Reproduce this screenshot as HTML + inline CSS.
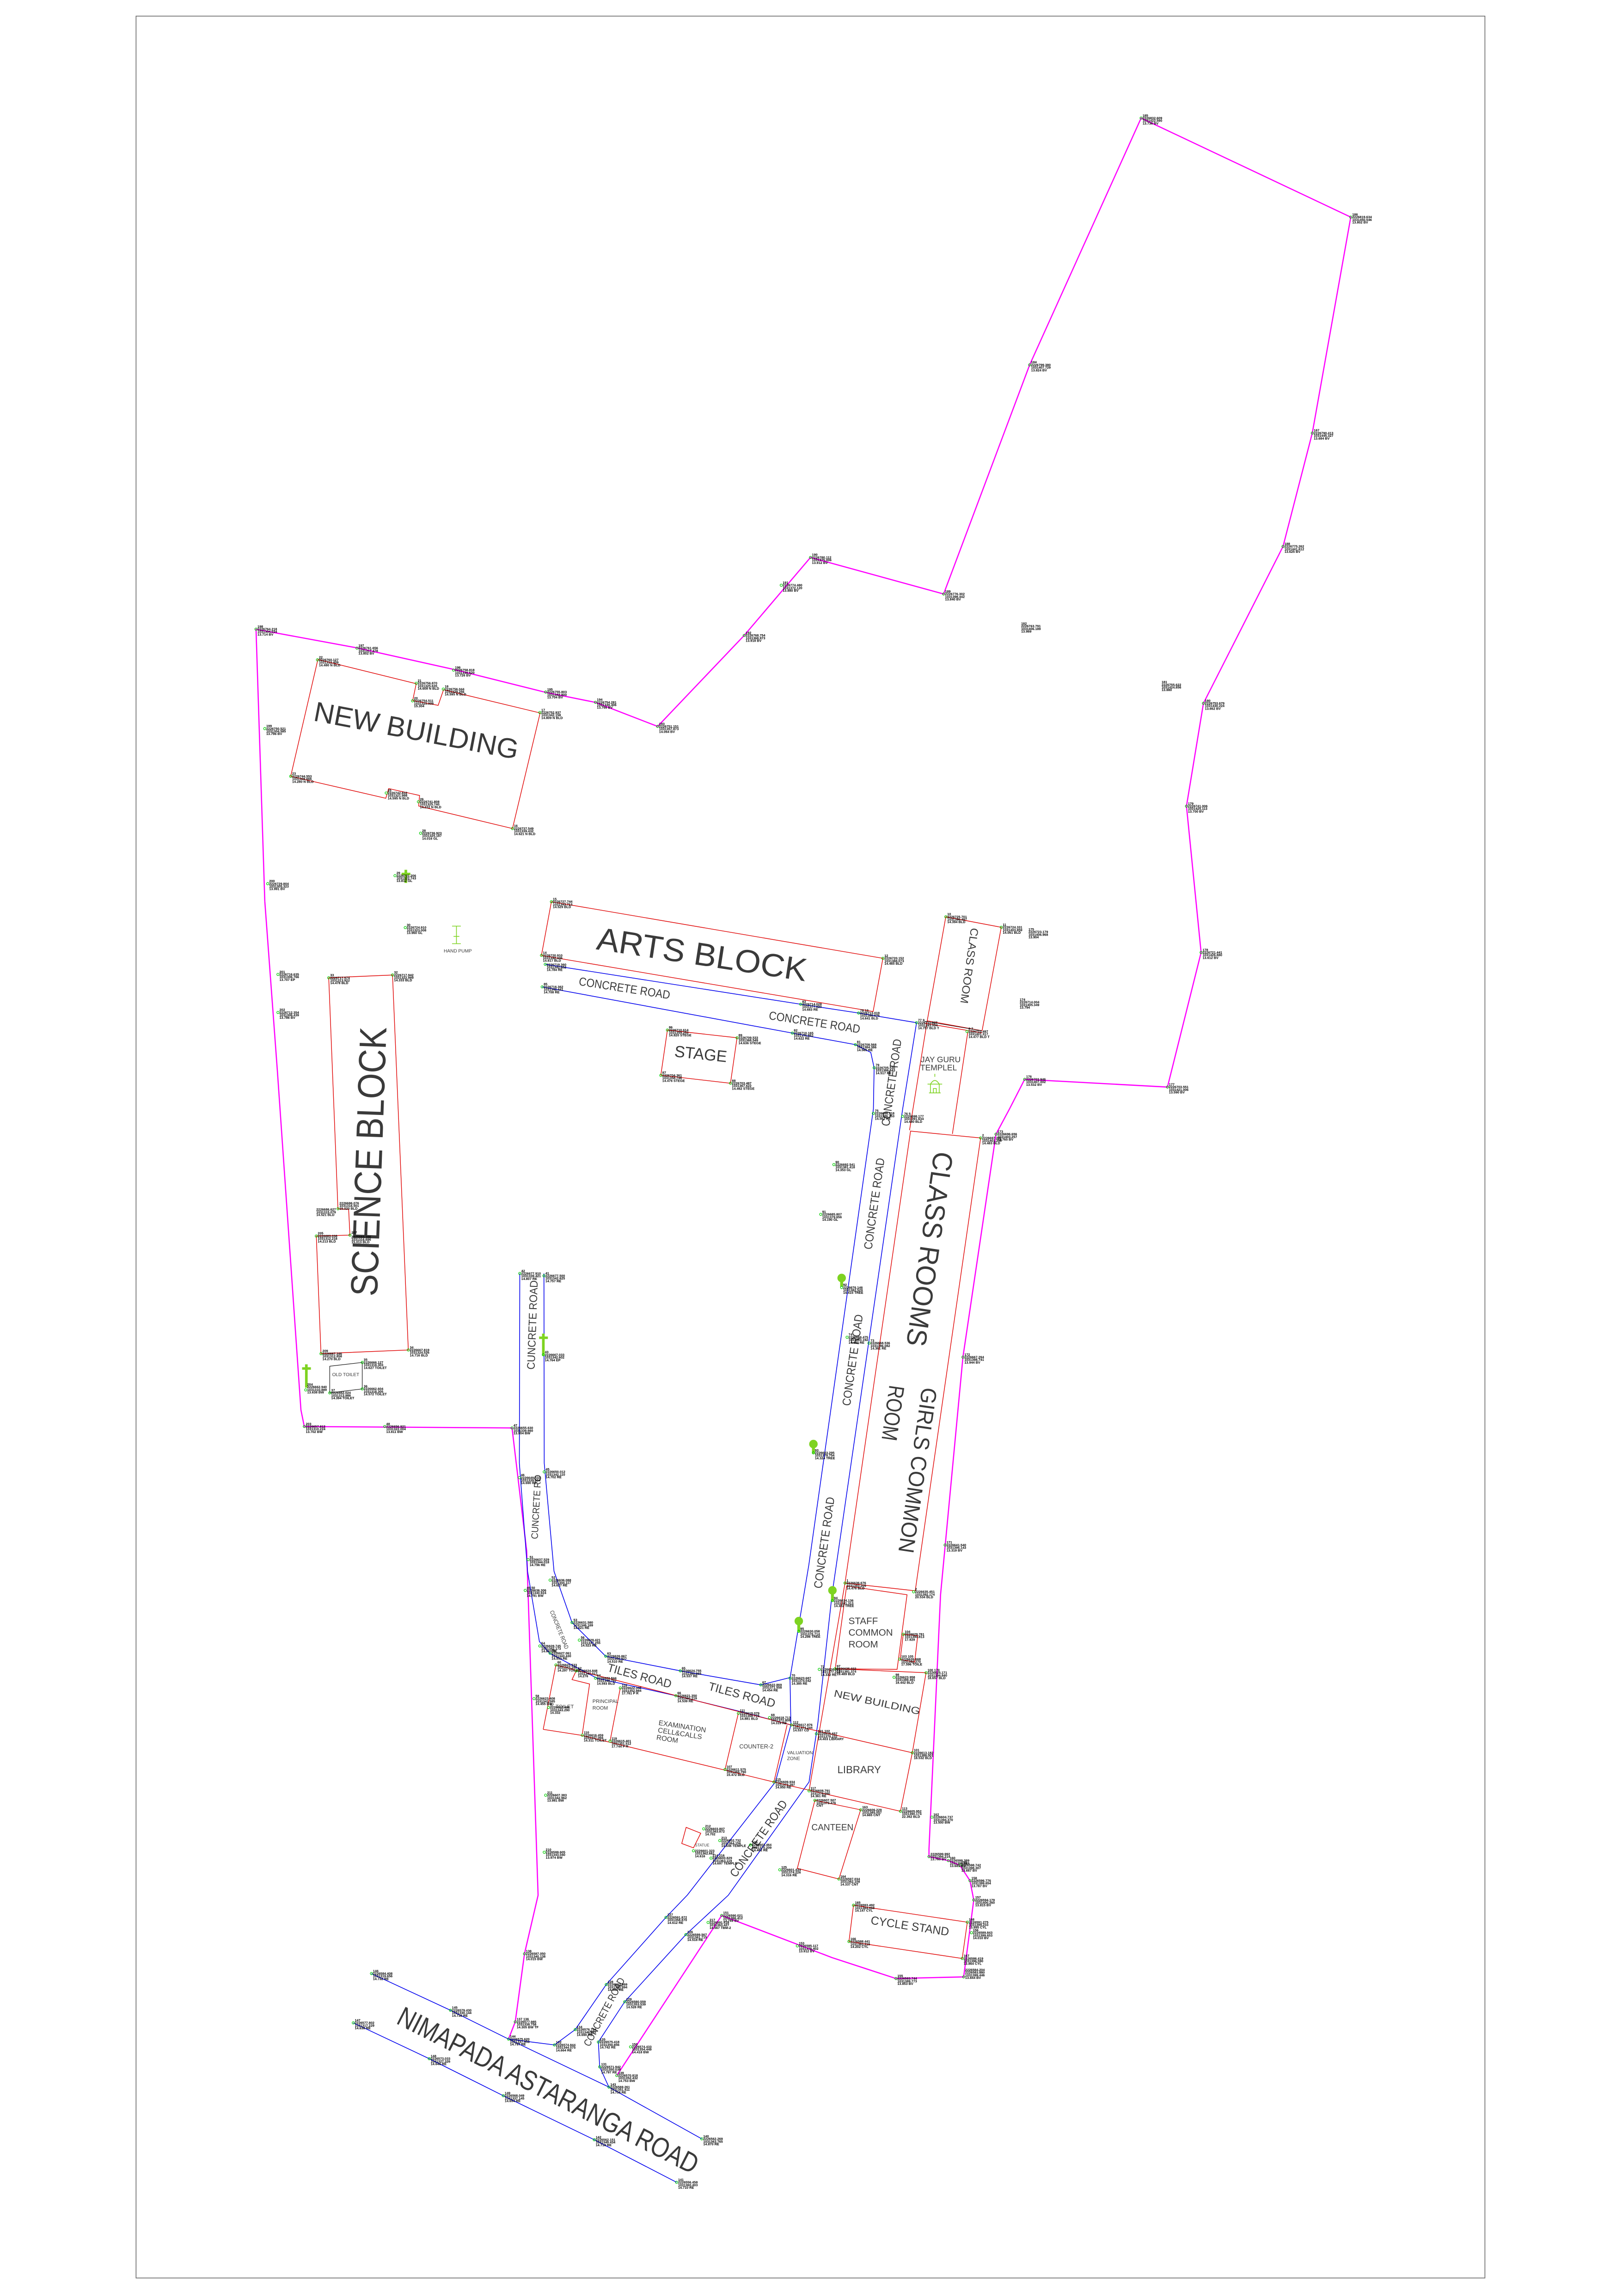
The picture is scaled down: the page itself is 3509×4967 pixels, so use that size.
<!DOCTYPE html>
<html><head><meta charset="utf-8"><style>
html,body{margin:0;padding:0;background:#fff}
svg{display:block}
.p{font-family:"Liberation Sans",sans-serif;font-size:2.3px;font-weight:bold;fill:#000}
.L{font-family:"Liberation Sans",sans-serif;fill:#3a3a3a;font-weight:normal}
.m{fill:none;stroke:#00cc00;stroke-width:0.4}
</style></head><body>
<svg width="3509" height="4967" viewBox="0 0 1108.7 1569.3" preserveAspectRatio="none" xmlns="http://www.w3.org/2000/svg">
<rect x="0" y="0" width="1108.7" height="1569.3" fill="#fff"/>
<rect x="93" y="11" width="922" height="1546" fill="none" stroke="#666" stroke-width="0.5"/>

<g fill="none" stroke="#ff00ff" stroke-width="0.8" stroke-linejoin="round">
<polyline points="181,616 175,430.1 243.9,442.8 310.4,457.6 373.3,473.3 407.1,480.1 449.5,496.5 508.7,434.3 554,381 645,406 703.8,249.4 780,80.7 923.3,148.4 897,296 877,373.5 822.6,480.7 811,551 821,651 798,743 700.4,737.7 690,758 680.8,775.2 658.2,927.6 642.9,1090 635,1263.8 635,1269 648.2,1271.7 656.1,1274.9 663,1285.4 665.6,1298.6 658.7,1351.2 612.4,1352.3 568.7,1338 493.3,1309.2 421.6,1418.6"/>
<polyline points="181,616 189.6,732 205.7,963.7 208,975 350,976 360,1060 367.8,1295.4 358.5,1335.4 352.2,1381.9 347.6,1393.7"/>
</g>

<g fill="none" stroke="#0000ee" stroke-width="0.5" stroke-linejoin="round">
<polyline points="372.7,659.1 547.3,686.4 586.9,692.4 626.5,699 617,758 568.7,1090 559,1178 553,1218 497.8,1295.4 468.8,1322.3 427,1368.2 409,1395.7 409.9,1412.7 416.2,1426.5"/>
<polyline points="370.6,674.5 541.6,706.1 584.7,714 595.2,719.3 597.5,729.8 597,758 552.9,1069.4 540,1147 540.6,1179 530,1218 469.7,1295.4 455.2,1310.5 414.4,1356.4 393.2,1387.2 379,1397.7 347.6,1393.7"/>
<polyline points="355.3,870.4 355,1000 360.6,1074 368.7,1122 375.7,1130 408,1147 462,1159 506.7,1170 540.6,1179"/>
<polyline points="371.8,870.4 372,1000 378.7,1074 391,1109 414,1132 465,1142 520,1151.6 540,1146.6"/>
<polyline points="253.9,1348.9 307.9,1374 347.6,1393.7 416.2,1426.5 479.7,1461.9"/>
<polyline points="241.5,1382.6 293.4,1407.1 344,1432.4 406.2,1462.5 462.5,1491.6"/>
</g>

<g fill="none" stroke="#e00000" stroke-width="0.45" stroke-linejoin="miter">
<polygon points="217.3,450.7 284.5,467.3 282.1,478.8 299.5,482.1 303.2,471.4 369.2,487.3 350.3,566.3 286.2,550.9 286.8,543.7 265.7,539 263.7,545.6 198.7,530.6"/>
<polygon points="376.9,616.3 603.5,655 596.8,691.4 370.1,653"/>
<polygon points="224.7,668.3 268.3,666.4 279.1,922.7 219.4,925.2 216.2,844.8 239.2,844.2 238.3,826.6 231,826.2"/>
<polygon points="456.2,704 503.8,709.3 499.3,740.4 451.7,734.9"/>
<polygon points="646.5,626.6 684.4,633.8 671.3,704.5 633.8,697.7"/>
<polyline points="632,699.3 671.3,706"/>
<polyline points="633.8,697.7 621.7,772.5"/>
<polyline points="661.6,705 651,775"/>
<polygon points="622.4,773.1 670.3,777.8 625.6,1087.3 577.6,1082"/>
<polygon points="578.7,1084 620,1090 613.2,1141 570.9,1140.6"/>
<polygon points="617.4,1117 627.3,1118 625.2,1136 615.3,1134.3"/>
<polyline points="570.9,1140.6 633,1143.3 623.6,1198 615.5,1238"/>
<polyline points="577.6,1082 553,1224"/>
<polyline points="380,1138 541,1179 623.6,1198"/>
<polyline points="371.3,1182 397,1186 529,1218 615.5,1238"/>
<polyline points="380,1138 371.3,1182"/>
<polyline points="394,1141.7 391,1148 403,1151 398,1185.4"/>
<polyline points="424,1153.7 417,1190"/>
<polyline points="504.7,1171 495.6,1209.4"/>
<polyline points="538,1179 529,1218"/>
<polygon points="557,1230.5 588.3,1237 573.4,1284.3 545,1277"/>
<polygon points="583.4,1302.2 661.2,1313.8 657.7,1338.6 580.3,1327"/>
<polygon points="469,1249 479,1253 474,1263 466,1260"/>
</g>
<polygon points="225.4,933.8 247.6,931.2 247.6,949.3 225.4,952" fill="none" stroke="#000" stroke-width="0.35"/>
<polyline points="632,698 671,704.5" fill="none" stroke="#000" stroke-width="0.3"/>

<g fill="#7ed321" stroke="#7ed321">
<circle cx="575.3" cy="873.5" r="2.4"/><rect x="574.8" y="874" width="1" height="5"/>
<circle cx="556" cy="987" r="2.4"/><rect x="555.5" y="988" width="1" height="5"/>
<circle cx="569" cy="1087" r="2.4"/><rect x="568.5" y="1088" width="1" height="6"/>
<circle cx="546" cy="1108" r="2.4"/><rect x="545.5" y="1109" width="1" height="6"/>
<rect x="209" y="933" width="0.8" height="15"/><rect x="207" y="935" width="5" height="0.7"/>
<rect x="371" y="912" width="0.8" height="14"/><rect x="369" y="914" width="5" height="0.7"/>
<rect x="277" y="595" width="0.8" height="8"/><rect x="275" y="597" width="5" height="0.7"/>
</g>
<g fill="none" stroke="#7ed321" stroke-width="0.5">
<path d="M309,633 h6 M312,633 v12 M309,645 h6 M310,640 h4"/>
<path d="M636,747 v-6 q3,-5 6,0 v6 z M634,741 h10 M635,747 h8 M638,747 v-3 h2 v3 M639,736 v-2"/>
</g>

<g class="L">
<text transform="translate(284.3,500.8) rotate(10.8)" text-anchor="middle" dominant-baseline="middle" font-size="19" textLength="142" lengthAdjust="spacingAndGlyphs">NEW BUILDING</text>
<text transform="translate(479.6,654) rotate(8.7)" text-anchor="middle" dominant-baseline="middle" font-size="22" textLength="145" lengthAdjust="spacingAndGlyphs">ARTS BLOCK</text>
<text transform="translate(254.1,794) rotate(-88)" text-anchor="middle" dominant-baseline="middle" font-size="26" textLength="184" lengthAdjust="spacingAndGlyphs">SCIENCE BLOCK</text>
<text transform="translate(478.9,721.2) rotate(6)" text-anchor="middle" dominant-baseline="middle" font-size="11" textLength="36" lengthAdjust="spacingAndGlyphs">STAGE</text>
<text transform="translate(662,660) rotate(98)" text-anchor="middle" dominant-baseline="middle" font-size="7.5" textLength="52" lengthAdjust="spacingAndGlyphs">CLASS ROOM</text>
<text x="643" y="726" text-anchor="middle" font-size="5.5">JAY GURU</text>
<text x="641.6" y="731.5" text-anchor="middle" font-size="5.5">TEMPLEL</text>
<text transform="translate(634,853.5) rotate(98.2)" text-anchor="middle" dominant-baseline="middle" font-size="19" textLength="134" lengthAdjust="spacingAndGlyphs">CLASS ROOMS</text>
<text transform="translate(626.1,1004.8) rotate(98.2)" text-anchor="middle" dominant-baseline="middle" font-size="15" textLength="114" lengthAdjust="spacingAndGlyphs">GIRLS COMMON</text>
<text transform="translate(609.2,965.7) rotate(98.2)" text-anchor="middle" dominant-baseline="middle" font-size="15" textLength="38" lengthAdjust="spacingAndGlyphs">ROOM</text>
<text x="580" y="1110" font-size="6.5">STAFF</text>
<text x="580" y="1118" font-size="6.5">COMMON</text>
<text x="580" y="1126" font-size="6.5">ROOM</text>
<text transform="translate(599.4,1164) rotate(12)" text-anchor="middle" dominant-baseline="middle" font-size="6.8" textLength="60" lengthAdjust="spacingAndGlyphs">NEW BUILDING</text>
<text x="587.3" y="1212" text-anchor="middle" font-size="7">LIBRARY</text>
<text x="569" y="1251" text-anchor="middle" font-size="6">CANTEEN</text>
<text transform="translate(621.9,1317) rotate(8.6)" text-anchor="middle" dominant-baseline="middle" font-size="8" textLength="54" lengthAdjust="spacingAndGlyphs">CYCLE STAND</text>
<text x="386" y="1167.5" text-anchor="middle" font-size="3.6">TOILET</text>
<text x="405" y="1164" font-size="3.4">PRINCIPAL</text>
<text x="405" y="1168.5" font-size="3.4">ROOM</text>
<text transform="translate(450,1179) rotate(9)" font-size="4.8">EXAMINATION</text>
<text transform="translate(449.5,1184) rotate(9)" font-size="4.8">CELL&amp;CALLS</text>
<text transform="translate(448.5,1189) rotate(9)" font-size="4.8">ROOM</text>
<text x="517" y="1195" text-anchor="middle" font-size="4">COUNTER-2</text>
<text x="538" y="1199" font-size="3.2">VALUATION</text>
<text x="538" y="1203" font-size="3.2">ZONE</text>
<text x="236.3" y="940.5" text-anchor="middle" font-size="3.2">OLD TOILET</text>
<text x="312.9" y="651" text-anchor="middle" font-size="3.2">HAND PUMP</text>
<text x="475" y="1262" font-size="2.6">STATUE</text>
<text transform="translate(426.8,676) rotate(8.7)" text-anchor="middle" dominant-baseline="middle" font-size="8" textLength="63" lengthAdjust="spacingAndGlyphs">CONCRETE ROAD</text>
<text transform="translate(556.7,699.3) rotate(8.7)" text-anchor="middle" dominant-baseline="middle" font-size="8" textLength="63" lengthAdjust="spacingAndGlyphs">CONCRETE ROAD</text>
<text transform="translate(610,740) rotate(-82)" text-anchor="middle" dominant-baseline="middle" font-size="8" textLength="60" lengthAdjust="spacingAndGlyphs">CONCRETE ROAD</text>
<text transform="translate(598.2,822.8) rotate(-82)" text-anchor="middle" dominant-baseline="middle" font-size="8" textLength="63" lengthAdjust="spacingAndGlyphs">CONCRETE ROAD</text>
<text transform="translate(583.4,929.7) rotate(-82)" text-anchor="middle" dominant-baseline="middle" font-size="8" textLength="63" lengthAdjust="spacingAndGlyphs">CONCRETE ROAD</text>
<text transform="translate(564,1054.5) rotate(-82)" text-anchor="middle" dominant-baseline="middle" font-size="8" textLength="63" lengthAdjust="spacingAndGlyphs">CONCRETE ROAD</text>
<text transform="translate(364.5,905.6) rotate(-88)" text-anchor="middle" dominant-baseline="middle" font-size="7.5" textLength="61" lengthAdjust="spacingAndGlyphs">CUNCRETE ROAD</text>
<text transform="translate(367,1030) rotate(-87)" text-anchor="middle" dominant-baseline="middle" font-size="6.5" textLength="44" lengthAdjust="spacingAndGlyphs">CUNCRETE RO</text>
<text transform="translate(382,1114) rotate(68)" text-anchor="middle" dominant-baseline="middle" font-size="4" textLength="28" lengthAdjust="spacingAndGlyphs">CONCRETE ROAD</text>
<text transform="translate(437,1146) rotate(15)" text-anchor="middle" dominant-baseline="middle" font-size="8" textLength="45" lengthAdjust="spacingAndGlyphs">TILES ROAD</text>
<text transform="translate(507,1159) rotate(15)" text-anchor="middle" dominant-baseline="middle" font-size="8" textLength="47" lengthAdjust="spacingAndGlyphs">TILES ROAD</text>
<text transform="translate(519,1257) rotate(-55)" text-anchor="middle" dominant-baseline="middle" font-size="8" textLength="62" lengthAdjust="spacingAndGlyphs">CONCRETE ROAD</text>
<text transform="translate(413.5,1375.4) rotate(-62)" text-anchor="middle" dominant-baseline="middle" font-size="7" textLength="52" lengthAdjust="spacingAndGlyphs">CONCRETE ROAD</text>
<text transform="translate(374,1430) rotate(27)" text-anchor="middle" dominant-baseline="middle" font-size="19" textLength="228" lengthAdjust="spacingAndGlyphs">NIMAPADA ASTARANGA ROAD</text>
</g>

<g>
<g transform="translate(175,430)"><circle class="m" r=".8"/><text class="p" x="1" y="-1">198<tspan x="1" dy="1.8">2226764.218</tspan><tspan x="1" dy="1.8">1031304.034</tspan><tspan x="1" dy="1.8">13.714 BV</tspan></text></g>
<g transform="translate(244,443)"><circle class="m" r=".8"/><text class="p" x="1" y="-1">197<tspan x="1" dy="1.8">2226761.656</tspan><tspan x="1" dy="1.8">1031317.478</tspan><tspan x="1" dy="1.8">13.802 BV</tspan></text></g>
<g transform="translate(217,451)"><circle class="m" r=".8"/><text class="p" x="1" y="-1">22<tspan x="1" dy="1.8">2226760.127</tspan><tspan x="1" dy="1.8">1031312.409</tspan><tspan x="1" dy="1.8">14.480 N BLD</tspan></text></g>
<g transform="translate(310,458)"><circle class="m" r=".8"/><text class="p" x="1" y="-1">196<tspan x="1" dy="1.8">2226758.818</tspan><tspan x="1" dy="1.8">1031330.520</tspan><tspan x="1" dy="1.8">13.726 BV</tspan></text></g>
<g transform="translate(284.5,467)"><circle class="m" r=".8"/><text class="p" x="1" y="-1">21<tspan x="1" dy="1.8">2226756.870</tspan><tspan x="1" dy="1.8">1031325.635</tspan><tspan x="1" dy="1.8">14.609 N BLD</tspan></text></g>
<g transform="translate(303,471)"><circle class="m" r=".8"/><text class="p" x="1" y="-1">18<tspan x="1" dy="1.8">2226756.044</tspan><tspan x="1" dy="1.8">1031329.256</tspan><tspan x="1" dy="1.8">14.595 N BLD</tspan></text></g>
<g transform="translate(282,479)"><circle class="m" r=".8"/><text class="p" x="1" y="-1">20<tspan x="1" dy="1.8">2226754.511</tspan><tspan x="1" dy="1.8">1031325.009</tspan><tspan x="1" dy="1.8">15.304</tspan></text></g>
<g transform="translate(373,473)"><circle class="m" r=".8"/><text class="p" x="1" y="-1">195<tspan x="1" dy="1.8">2226755.803</tspan><tspan x="1" dy="1.8">1031342.800</tspan><tspan x="1" dy="1.8">13.704 BV</tspan></text></g>
<g transform="translate(369,487)"><circle class="m" r=".8"/><text class="p" x="1" y="-1">17<tspan x="1" dy="1.8">2226752.937</tspan><tspan x="1" dy="1.8">1031342.158</tspan><tspan x="1" dy="1.8">14.809 N BLD</tspan></text></g>
<g transform="translate(407,480)"><circle class="m" r=".8"/><text class="p" x="1" y="-1">194<tspan x="1" dy="1.8">2226754.281</tspan><tspan x="1" dy="1.8">1031349.406</tspan><tspan x="1" dy="1.8">13.766 BV</tspan></text></g>
<g transform="translate(449.5,496.5)"><circle class="m" r=".8"/><text class="p" x="1" y="-1">193<tspan x="1" dy="1.8">2226751.151</tspan><tspan x="1" dy="1.8">1031357.873</tspan><tspan x="1" dy="1.8">14.064 BV</tspan></text></g>
<g transform="translate(508.7,434.3)"><circle class="m" r=".8"/><text class="p" x="1" y="-1">192<tspan x="1" dy="1.8">2226768.754</tspan><tspan x="1" dy="1.8">1031368.973</tspan><tspan x="1" dy="1.8">13.918 BV</tspan></text></g>
<g transform="translate(534,400)"><circle class="m" r=".8"/><text class="p" x="1" y="-1">191<tspan x="1" dy="1.8">2226774.480</tspan><tspan x="1" dy="1.8">1031372.120</tspan><tspan x="1" dy="1.8">13.880 BV</tspan></text></g>
<g transform="translate(554,381)"><circle class="m" r=".8"/><text class="p" x="1" y="-1">190<tspan x="1" dy="1.8">2226780.112</tspan><tspan x="1" dy="1.8">1031375.006</tspan><tspan x="1" dy="1.8">13.912 BV</tspan></text></g>
<g transform="translate(645,406)"><circle class="m" r=".8"/><text class="p" x="1" y="-1">189<tspan x="1" dy="1.8">2226776.302</tspan><tspan x="1" dy="1.8">1031398.442</tspan><tspan x="1" dy="1.8">13.840 BV</tspan></text></g>
<g transform="translate(703.8,249.4)"><circle class="m" r=".8"/><text class="p" x="1" y="-1">184<tspan x="1" dy="1.8">2226799.380</tspan><tspan x="1" dy="1.8">1031407.729</tspan><tspan x="1" dy="1.8">13.824 BV</tspan></text></g>
<g transform="translate(780,80.7)"><circle class="m" r=".8"/><text class="p" x="1" y="-1">185<tspan x="1" dy="1.8">2226832.609</tspan><tspan x="1" dy="1.8">1031422.590</tspan><tspan x="1" dy="1.8">13.736 BV</tspan></text></g>
<g transform="translate(923.3,148.4)"><circle class="m" r=".8"/><text class="p" x="1" y="-1">186<tspan x="1" dy="1.8">2226819.634</tspan><tspan x="1" dy="1.8">1031450.546</tspan><tspan x="1" dy="1.8">13.802 BV</tspan></text></g>
<g transform="translate(897,296)"><circle class="m" r=".8"/><text class="p" x="1" y="-1">187<tspan x="1" dy="1.8">2226790.413</tspan><tspan x="1" dy="1.8">1031445.327</tspan><tspan x="1" dy="1.8">13.684 BV</tspan></text></g>
<g transform="translate(877,373.5)"><circle class="m" r=".8"/><text class="p" x="1" y="-1">188<tspan x="1" dy="1.8">2226775.262</tspan><tspan x="1" dy="1.8">1031441.612</tspan><tspan x="1" dy="1.8">13.625 BV</tspan></text></g>
<g transform="translate(822.6,480.7)"><circle class="m" r=".8"/><text class="p" x="1" y="-1">180<tspan x="1" dy="1.8">2226753.679</tspan><tspan x="1" dy="1.8">1031430.224</tspan><tspan x="1" dy="1.8">13.662 BV</tspan></text></g>
<g transform="translate(793,468)"><text class="p" x="1" y="-1">181<tspan x="1" dy="1.8">2226755.622</tspan><tspan x="1" dy="1.8">1031424.856</tspan><tspan x="1" dy="1.8">13.880</tspan></text></g>
<g transform="translate(697,428)"><text class="p" x="1" y="-1">182<tspan x="1" dy="1.8">2226763.791</tspan><tspan x="1" dy="1.8">1031406.189</tspan><tspan x="1" dy="1.8">13.989</tspan></text></g>
<g transform="translate(811,551)"><circle class="m" r=".8"/><text class="p" x="1" y="-1">179<tspan x="1" dy="1.8">2226741.006</tspan><tspan x="1" dy="1.8">1031425.113</tspan><tspan x="1" dy="1.8">13.700 BV</tspan></text></g>
<g transform="translate(821,651)"><circle class="m" r=".8"/><text class="p" x="1" y="-1">178<tspan x="1" dy="1.8">2226721.441</tspan><tspan x="1" dy="1.8">1031426.880</tspan><tspan x="1" dy="1.8">13.612 BV</tspan></text></g>
<g transform="translate(798,743)"><circle class="m" r=".8"/><text class="p" x="1" y="-1">177<tspan x="1" dy="1.8">2226703.551</tspan><tspan x="1" dy="1.8">1031421.006</tspan><tspan x="1" dy="1.8">13.590 BV</tspan></text></g>
<g transform="translate(700.4,737.7)"><circle class="m" r=".8"/><text class="p" x="1" y="-1">176<tspan x="1" dy="1.8">2226703.946</tspan><tspan x="1" dy="1.8">1031407.002</tspan><tspan x="1" dy="1.8">13.532 BV</tspan></text></g>
<g transform="translate(680.8,775.2)"><circle class="m" r=".8"/><text class="p" x="1" y="-1">173<tspan x="1" dy="1.8">2226696.656</tspan><tspan x="1" dy="1.8">1031403.257</tspan><tspan x="1" dy="1.8">13.765 BV</tspan></text></g>
<g transform="translate(658.2,927.6)"><circle class="m" r=".8"/><text class="p" x="1" y="-1">172<tspan x="1" dy="1.8">2226667.294</tspan><tspan x="1" dy="1.8">1031398.741</tspan><tspan x="1" dy="1.8">13.944 BV</tspan></text></g>
<g transform="translate(646,1056)"><circle class="m" r=".8"/><text class="p" x="1" y="-1">171<tspan x="1" dy="1.8">2226641.540</tspan><tspan x="1" dy="1.8">1031396.143</tspan><tspan x="1" dy="1.8">13.319 BV</tspan></text></g>
<g transform="translate(181,498)"><circle class="m" r=".8"/><text class="p" x="1" y="-1">199<tspan x="1" dy="1.8">2226750.521</tspan><tspan x="1" dy="1.8">1031304.585</tspan><tspan x="1" dy="1.8">13.796 BV</tspan></text></g>
<g transform="translate(183,604)"><circle class="m" r=".8"/><text class="p" x="1" y="-1">200<tspan x="1" dy="1.8">2226729.804</tspan><tspan x="1" dy="1.8">1031305.323</tspan><tspan x="1" dy="1.8">13.991 BV</tspan></text></g>
<g transform="translate(190,666)"><circle class="m" r=".8"/><text class="p" x="1" y="-1">201<tspan x="1" dy="1.8">2226716.635</tspan><tspan x="1" dy="1.8">1031306.766</tspan><tspan x="1" dy="1.8">13.707 EP</tspan></text></g>
<g transform="translate(190,692)"><circle class="m" r=".8"/><text class="p" x="1" y="-1">202<tspan x="1" dy="1.8">2226712.354</tspan><tspan x="1" dy="1.8">1031306.439</tspan><tspan x="1" dy="1.8">13.786 BV</tspan></text></g>
<g transform="translate(198.7,530.6)"><circle class="m" r=".8"/><text class="p" x="1" y="-1">23<tspan x="1" dy="1.8">2226744.553</tspan><tspan x="1" dy="1.8">1031308.666</tspan><tspan x="1" dy="1.8">14.280 N BLD</tspan></text></g>
<g transform="translate(264,542)"><circle class="m" r=".8"/><text class="p" x="1" y="-1">25<tspan x="1" dy="1.8">2226742.832</tspan><tspan x="1" dy="1.8">1031321.998</tspan><tspan x="1" dy="1.8">14.595 N BLD</tspan></text></g>
<g transform="translate(286,548)"><circle class="m" r=".8"/><text class="p" x="1" y="-1">26<tspan x="1" dy="1.8">2226741.808</tspan><tspan x="1" dy="1.8">1031325.740</tspan><tspan x="1" dy="1.8">14.222 N BLD</tspan></text></g>
<g transform="translate(350.3,566.3)"><circle class="m" r=".8"/><text class="p" x="1" y="-1">16<tspan x="1" dy="1.8">2226737.549</tspan><tspan x="1" dy="1.8">1031339.432</tspan><tspan x="1" dy="1.8">14.621 N BLD</tspan></text></g>
<g transform="translate(287.5,569.5)"><circle class="m" r=".8"/><text class="p" x="1" y="-1">28<tspan x="1" dy="1.8">2226736.923</tspan><tspan x="1" dy="1.8">1031325.187</tspan><tspan x="1" dy="1.8">14.016 GL</tspan></text></g>
<g transform="translate(270,598.5)"><circle class="m" r=".8"/><text class="p" x="1" y="-1">29<tspan x="1" dy="1.8">2226731.206</tspan><tspan x="1" dy="1.8">1031322.743</tspan><tspan x="1" dy="1.8">13.812 GL</tspan></text></g>
<g transform="translate(277,634)"><circle class="m" r=".8"/><text class="p" x="1" y="-1">30<tspan x="1" dy="1.8">2226724.910</tspan><tspan x="1" dy="1.8">1031323.008</tspan><tspan x="1" dy="1.8">13.960 GL</tspan></text></g>
<g transform="translate(376.9,616.3)"><circle class="m" r=".8"/><text class="p" x="1" y="-1">15<tspan x="1" dy="1.8">2226727.744</tspan><tspan x="1" dy="1.8">1031343.713</tspan><tspan x="1" dy="1.8">14.529 BLD</tspan></text></g>
<g transform="translate(370.1,653)"><circle class="m" r=".8"/><text class="p" x="1" y="-1">14<tspan x="1" dy="1.8">2226720.910</tspan><tspan x="1" dy="1.8">1031342.446</tspan><tspan x="1" dy="1.8">14.617 BLD</tspan></text></g>
<g transform="translate(372.7,659.1)"><circle class="m" r=".8"/><text class="p" x="1" y="1">2226719.360<tspan x="1" dy="1.8">1031342.852</tspan><tspan x="1" dy="1.8">14.784 RE</tspan></text></g>
<g transform="translate(370.6,674.5)"><circle class="m" r=".8"/><text class="p" x="1" y="-1">85<tspan x="1" dy="1.8">2226716.362</tspan><tspan x="1" dy="1.8">1031342.441</tspan><tspan x="1" dy="1.8">14.708 RE</tspan></text></g>
<g transform="translate(603.5,655)"><circle class="m" r=".8"/><text class="p" x="1" y="-1">12<tspan x="1" dy="1.8">2226720.152</tspan><tspan x="1" dy="1.8">1031388.073</tspan><tspan x="1" dy="1.8">14.465 BLD</tspan></text></g>
<g transform="translate(547.3,686.4)"><circle class="m" r=".8"/><text class="p" x="1" y="-1">83<tspan x="1" dy="1.8">2226714.028</tspan><tspan x="1" dy="1.8">1031377.020</tspan><tspan x="1" dy="1.8">14.683 RE</tspan></text></g>
<g transform="translate(586.9,692.4)"><circle class="m" r=".8"/><text class="p" x="1" y="-1">78 13<tspan x="1" dy="1.8">2226713.019</tspan><tspan x="1" dy="1.8">1031386.676</tspan><tspan x="1" dy="1.8">14.641 BLD</tspan></text></g>
<g transform="translate(541.6,706.1)"><circle class="m" r=".8"/><text class="p" x="1" y="-1">82<tspan x="1" dy="1.8">2226710.165</tspan><tspan x="1" dy="1.8">1031375.952</tspan><tspan x="1" dy="1.8">14.622 RE</tspan></text></g>
<g transform="translate(584.7,714)"><circle class="m" r=".8"/><text class="p" x="1" y="-1">81<tspan x="1" dy="1.8">2226708.568</tspan><tspan x="1" dy="1.8">1031384.386</tspan><tspan x="1" dy="1.8">14.565 RE</tspan></text></g>
<g transform="translate(597.5,729.8)"><circle class="m" r=".8"/><text class="p" x="1" y="-1">79<tspan x="1" dy="1.8">2226705.530</tspan><tspan x="1" dy="1.8">1031386.843</tspan><tspan x="1" dy="1.8">14.517 RE</tspan></text></g>
<g transform="translate(626.5,699)"><circle class="m" r=".8"/><text class="p" x="1" y="-1">77 9<tspan x="1" dy="1.8">2226711.827</tspan><tspan x="1" dy="1.8">1031393.004</tspan><tspan x="1" dy="1.8">14.757 BLD T</tspan></text></g>
<g transform="translate(661,705)"><circle class="m" r=".8"/><text class="p" x="1" y="-1">8 7<tspan x="1" dy="1.8">2226710.497</tspan><tspan x="1" dy="1.8">1031401.317</tspan><tspan x="1" dy="1.8">14.477 BLD T</tspan></text></g>
<g transform="translate(646.5,626.6)"><circle class="m" r=".8"/><text class="p" x="1" y="-1">10<tspan x="1" dy="1.8">2226725.701</tspan><tspan x="1" dy="1.8">1031396.497</tspan><tspan x="1" dy="1.8">14.394 BLD</tspan></text></g>
<g transform="translate(684.4,633.8)"><circle class="m" r=".8"/><text class="p" x="1" y="-1">11<tspan x="1" dy="1.8">2226724.331</tspan><tspan x="1" dy="1.8">1031403.859</tspan><tspan x="1" dy="1.8">14.061 BLD</tspan></text></g>
<g transform="translate(702,637)"><text class="p" x="1" y="-1">175<tspan x="1" dy="1.8">2226723.179</tspan><tspan x="1" dy="1.8">1031406.968</tspan><tspan x="1" dy="1.8">13.904</tspan></text></g>
<g transform="translate(696,685)"><text class="p" x="1" y="-1">174<tspan x="1" dy="1.8">2226714.004</tspan><tspan x="1" dy="1.8">1031405.349</tspan><tspan x="1" dy="1.8">13.794</tspan></text></g>
<g transform="translate(456.2,704)"><circle class="m" r=".8"/><text class="p" x="1" y="-1">86<tspan x="1" dy="1.8">2226710.614</tspan><tspan x="1" dy="1.8">1031359.253</tspan><tspan x="1" dy="1.8">14.820 STEGE</tspan></text></g>
<g transform="translate(503.8,709.3)"><circle class="m" r=".8"/><text class="p" x="1" y="-1">89<tspan x="1" dy="1.8">2226709.533</tspan><tspan x="1" dy="1.8">1031368.549</tspan><tspan x="1" dy="1.8">14.636 STEGE</tspan></text></g>
<g transform="translate(451.7,735)"><circle class="m" r=".8"/><text class="p" x="1" y="-1">87<tspan x="1" dy="1.8">2226704.361</tspan><tspan x="1" dy="1.8">1031358.746</tspan><tspan x="1" dy="1.8">14.476 STEGE</tspan></text></g>
<g transform="translate(499.3,740.4)"><circle class="m" r=".8"/><text class="p" x="1" y="-1">88<tspan x="1" dy="1.8">2226703.487</tspan><tspan x="1" dy="1.8">1031367.622</tspan><tspan x="1" dy="1.8">14.462 STEGE</tspan></text></g>
<g transform="translate(597,761)"><circle class="m" r=".8"/><text class="p" x="1" y="-1">75<tspan x="1" dy="1.8">2226698.718</tspan><tspan x="1" dy="1.8">1031386.753</tspan><tspan x="1" dy="1.8">14.562 RE</tspan></text></g>
<g transform="translate(617,763)"><circle class="m" r=".8"/><text class="p" x="1" y="-1">76 5<tspan x="1" dy="1.8">2226698.177</tspan><tspan x="1" dy="1.8">1031391.634</tspan><tspan x="1" dy="1.8">14.480 BLD</tspan></text></g>
<g transform="translate(670.3,777.8)"><circle class="m" r=".8"/><text class="p" x="1" y="-1">2<tspan x="1" dy="1.8">2226697.281</tspan><tspan x="1" dy="1.8">1031401.258</tspan><tspan x="1" dy="1.8">14.483 BLD</tspan></text></g>
<g transform="translate(570,796)"><circle class="m" r=".8"/><text class="p" x="1" y="-1">90<tspan x="1" dy="1.8">2226692.541</tspan><tspan x="1" dy="1.8">1031381.418</tspan><tspan x="1" dy="1.8">14.353 GL</tspan></text></g>
<g transform="translate(561,830)"><circle class="m" r=".8"/><text class="p" x="1" y="-1">91<tspan x="1" dy="1.8">2226685.807</tspan><tspan x="1" dy="1.8">1031379.656</tspan><tspan x="1" dy="1.8">14.190 GL</tspan></text></g>
<g transform="translate(575.3,880)"><circle class="m" r=".8"/><text class="p" x="1" y="-1">92<tspan x="1" dy="1.8">2226676.146</tspan><tspan x="1" dy="1.8">1031382.529</tspan><tspan x="1" dy="1.8">14.415 TREE</tspan></text></g>
<g transform="translate(579,914)"><circle class="m" r=".8"/><text class="p" x="1" y="-1">74<tspan x="1" dy="1.8">2226669.475</tspan><tspan x="1" dy="1.8">1031383.192</tspan><tspan x="1" dy="1.8">14.440 RE</tspan></text></g>
<g transform="translate(594,918)"><circle class="m" r=".8"/><text class="p" x="1" y="-1">73<tspan x="1" dy="1.8">2226668.536</tspan><tspan x="1" dy="1.8">1031386.082</tspan><tspan x="1" dy="1.8">14.361 RE</tspan></text></g>
<g transform="translate(556,993)"><circle class="m" r=".8"/><text class="p" x="1" y="-1">93<tspan x="1" dy="1.8">2226653.295</tspan><tspan x="1" dy="1.8">1031378.754</tspan><tspan x="1" dy="1.8">14.324 TREE</tspan></text></g>
<g transform="translate(577.6,1082)"><circle class="m" r=".8"/><text class="p" x="1" y="-1">1<tspan x="1" dy="1.8">2226636.676</tspan><tspan x="1" dy="1.8">1031383.205</tspan><tspan x="1" dy="1.8">14.476 BLD</tspan></text></g>
<g transform="translate(624.5,1088)"><circle class="m" r=".8"/><text class="p" x="1" y="-1">2<tspan x="1" dy="1.8">2226635.451</tspan><tspan x="1" dy="1.8">1031392.174</tspan><tspan x="1" dy="1.8">20.534 BLD</tspan></text></g>
<g transform="translate(569,1094)"><circle class="m" r=".8"/><text class="p" x="1" y="-1">94<tspan x="1" dy="1.8">2226634.136</tspan><tspan x="1" dy="1.8">1031381.313</tspan><tspan x="1" dy="1.8">14.302 TREE</tspan></text></g>
<g transform="translate(546,1115)"><circle class="m" r=".8"/><text class="p" x="1" y="-1">95<tspan x="1" dy="1.8">2226630.058</tspan><tspan x="1" dy="1.8">1031376.714</tspan><tspan x="1" dy="1.8">14.298 TREE</tspan></text></g>
<g transform="translate(617.4,1117)"><circle class="m" r=".8"/><text class="p" x="1" y="-1">104<tspan x="1" dy="1.8">2226629.781</tspan><tspan x="1" dy="1.8">1031390.813</tspan><tspan x="1" dy="1.8">17.929</tspan></text></g>
<g transform="translate(615,1134)"><circle class="m" r=".8"/><text class="p" x="1" y="-1">103 105<tspan x="1" dy="1.8">2226626.668</tspan><tspan x="1" dy="1.8">1031392.270</tspan><tspan x="1" dy="1.8">17.596 TOILE</tspan></text></g>
<g transform="translate(633,1143.3)"><circle class="m" r=".8"/><text class="p" x="1" y="-1">100 170<tspan x="1" dy="1.8">2226625.171</tspan><tspan x="1" dy="1.8">1031394.840</tspan><tspan x="1" dy="1.8">18.657 BLD</tspan></text></g>
<g transform="translate(611.1,1146.4)"><circle class="m" r=".8"/><text class="p" x="1" y="-1">98<tspan x="1" dy="1.8">2226623.958</tspan><tspan x="1" dy="1.8">1031389.491</tspan><tspan x="1" dy="1.8">18.442 BLD</tspan></text></g>
<g transform="translate(570.9,1140.6)"><circle class="m" r=".8"/><text class="p" x="1" y="-1">97<tspan x="1" dy="1.8">2226625.032</tspan><tspan x="1" dy="1.8">1031381.374</tspan><tspan x="1" dy="1.8">19.489 BLD</tspan></text></g>
<g transform="translate(560,1141)"><circle class="m" r=".8"/><text class="p" x="1" y="-1">72<tspan x="1" dy="1.8">2226624.001</tspan><tspan x="1" dy="1.8">1031377.212</tspan><tspan x="1" dy="1.8">14.332 RE</tspan></text></g>
<g transform="translate(540,1147)"><circle class="m" r=".8"/><text class="p" x="1" y="-1">70<tspan x="1" dy="1.8">2226623.687</tspan><tspan x="1" dy="1.8">1031374.042</tspan><tspan x="1" dy="1.8">14.385 RE</tspan></text></g>
<g transform="translate(520,1151.6)"><circle class="m" r=".8"/><text class="p" x="1" y="-1">67<tspan x="1" dy="1.8">2226622.869</tspan><tspan x="1" dy="1.8">1031371.558</tspan><tspan x="1" dy="1.8">14.454 RE</tspan></text></g>
<g transform="translate(465,1142)"><circle class="m" r=".8"/><text class="p" x="1" y="-1">65<tspan x="1" dy="1.8">2226624.755</tspan><tspan x="1" dy="1.8">1031360.865</tspan><tspan x="1" dy="1.8">14.537 RE</tspan></text></g>
<g transform="translate(414,1132)"><circle class="m" r=".8"/><text class="p" x="1" y="-1">63<tspan x="1" dy="1.8">2226626.867</tspan><tspan x="1" dy="1.8">1031350.927</tspan><tspan x="1" dy="1.8">14.510 RE</tspan></text></g>
<g transform="translate(391,1109)"><circle class="m" r=".8"/><text class="p" x="1" y="-1">53<tspan x="1" dy="1.8">2226631.580</tspan><tspan x="1" dy="1.8">1031346.169</tspan><tspan x="1" dy="1.8">14.621 RE</tspan></text></g>
<g transform="translate(396,1121)"><circle class="m" r=".8"/><text class="p" x="1" y="-1">56<tspan x="1" dy="1.8">2226629.421</tspan><tspan x="1" dy="1.8">1031347.255</tspan><tspan x="1" dy="1.8">14.523 RE</tspan></text></g>
<g transform="translate(369,1125)"><circle class="m" r=".8"/><text class="p" x="1" y="-1">54<tspan x="1" dy="1.8">2226628.745</tspan><tspan x="1" dy="1.8">1031342.173</tspan><tspan x="1" dy="1.8">14.693 RE</tspan></text></g>
<g transform="translate(376,1130)"><circle class="m" r=".8"/><text class="p" x="1" y="-1">55<tspan x="1" dy="1.8">2226627.061</tspan><tspan x="1" dy="1.8">1031343.430</tspan><tspan x="1" dy="1.8">14.553 RE</tspan></text></g>
<g transform="translate(380,1138)"><circle class="m" r=".8"/><text class="p" x="1" y="-1">60<tspan x="1" dy="1.8">2226625.533</tspan><tspan x="1" dy="1.8">1031343.280</tspan><tspan x="1" dy="1.8">14.297 TOILET</tspan></text></g>
<g transform="translate(394,1142)"><circle class="m" r=".8"/><text class="p" x="1" y="-1">62<tspan x="1" dy="1.8">2226624.848</tspan><tspan x="1" dy="1.8">1031347.017</tspan><tspan x="1" dy="1.8">14.276</tspan></text></g>
<g transform="translate(407,1147)"><circle class="m" r=".8"/><text class="p" x="1" y="-1">64<tspan x="1" dy="1.8">2226623.844</tspan><tspan x="1" dy="1.8">1031348.797</tspan><tspan x="1" dy="1.8">14.593 BLD</tspan></text></g>
<g transform="translate(424,1153.7)"><circle class="m" r=".8"/><text class="p" x="1" y="-1">118<tspan x="1" dy="1.8">2226622.342</tspan><tspan x="1" dy="1.8">1031352.984</tspan><tspan x="1" dy="1.8">17.761 P R</tspan></text></g>
<g transform="translate(365,1161)"><circle class="m" r=".8"/><text class="p" x="1" y="-1">58<tspan x="1" dy="1.8">2226623.408</tspan><tspan x="1" dy="1.8">1031341.585</tspan><tspan x="1" dy="1.8">14.455 BW</tspan></text></g>
<g transform="translate(375,1167)"><circle class="m" r=".8"/><text class="p" x="1" y="-1">57<tspan x="1" dy="1.8">2226622.466</tspan><tspan x="1" dy="1.8">1031343.290</tspan><tspan x="1" dy="1.8">14.332</tspan></text></g>
<g transform="translate(462,1159)"><circle class="m" r=".8"/><text class="p" x="1" y="-1">66<tspan x="1" dy="1.8">2226621.350</tspan><tspan x="1" dy="1.8">1031360.219</tspan><tspan x="1" dy="1.8">14.539 RE</tspan></text></g>
<g transform="translate(504.7,1171)"><circle class="m" r=".8"/><text class="p" x="1" y="-1">111<tspan x="1" dy="1.8">2226619.079</tspan><tspan x="1" dy="1.8">1031368.778</tspan><tspan x="1" dy="1.8">14.881 BLD</tspan></text></g>
<g transform="translate(526,1174)"><circle class="m" r=".8"/><text class="p" x="1" y="-1">68<tspan x="1" dy="1.8">2226618.713</tspan><tspan x="1" dy="1.8">1031372.808</tspan><tspan x="1" dy="1.8">14.319 RE</tspan></text></g>
<g transform="translate(541,1179)"><circle class="m" r=".8"/><text class="p" x="1" y="-1">112<tspan x="1" dy="1.8">2226617.876</tspan><tspan x="1" dy="1.8">1031374.244</tspan><tspan x="1" dy="1.8">14.537 CD</tspan></text></g>
<g transform="translate(558,1185)"><circle class="m" r=".8"/><text class="p" x="1" y="-1">121 102<tspan x="1" dy="1.8">2226615.657</tspan><tspan x="1" dy="1.8">1031378.232</tspan><tspan x="1" dy="1.8">14.403 LIBRARY</tspan></text></g>
<g transform="translate(398,1186)"><circle class="m" r=".8"/><text class="p" x="1" y="-1">110<tspan x="1" dy="1.8">2226616.459</tspan><tspan x="1" dy="1.8">1031347.066</tspan><tspan x="1" dy="1.8">14.311 TOILET</tspan></text></g>
<g transform="translate(417,1190)"><circle class="m" r=".8"/><text class="p" x="1" y="-1">119<tspan x="1" dy="1.8">2226615.401</tspan><tspan x="1" dy="1.8">1031351.512</tspan><tspan x="1" dy="1.8">17.744 P R</tspan></text></g>
<g transform="translate(495.6,1209.4)"><circle class="m" r=".8"/><text class="p" x="1" y="-1">107<tspan x="1" dy="1.8">2226611.575</tspan><tspan x="1" dy="1.8">1031366.790</tspan><tspan x="1" dy="1.8">15.472 BLD</tspan></text></g>
<g transform="translate(623.6,1198)"><circle class="m" r=".8"/><text class="p" x="1" y="-1">101<tspan x="1" dy="1.8">2226613.182</tspan><tspan x="1" dy="1.8">1031388.001</tspan><tspan x="1" dy="1.8">18.532 BLD</tspan></text></g>
<g transform="translate(529,1218)"><circle class="m" r=".8"/><text class="p" x="1" y="-1">115<tspan x="1" dy="1.8">2226609.934</tspan><tspan x="1" dy="1.8">1031373.297</tspan><tspan x="1" dy="1.8">14.950 RE</tspan></text></g>
<g transform="translate(553,1224)"><circle class="m" r=".8"/><text class="p" x="1" y="-1">117<tspan x="1" dy="1.8">2226608.791</tspan><tspan x="1" dy="1.8">1031378.080</tspan><tspan x="1" dy="1.8">14.361 RE</tspan></text></g>
<g transform="translate(557,1230.5)"><circle class="m" r=".8"/><text class="p" x="1" y="-1">&#160;<tspan x="1" dy="1.8">2226607.507</tspan><tspan x="1" dy="1.8">1031379.476</tspan><tspan x="1" dy="1.8">CNT</tspan></text></g>
<g transform="translate(588.3,1237)"><circle class="m" r=".8"/><text class="p" x="1" y="-1">163<tspan x="1" dy="1.8">2226606.229</tspan><tspan x="1" dy="1.8">1031385.057</tspan><tspan x="1" dy="1.8">14.665 CNT</tspan></text></g>
<g transform="translate(615.5,1238)"><circle class="m" r=".8"/><text class="p" x="1" y="-1">113<tspan x="1" dy="1.8">2226605.952</tspan><tspan x="1" dy="1.8">1031390.174</tspan><tspan x="1" dy="1.8">22.362 BLD</tspan></text></g>
<g transform="translate(637,1242)"><circle class="m" r=".8"/><text class="p" x="1" y="-1">162<tspan x="1" dy="1.8">2226604.737</tspan><tspan x="1" dy="1.8">1031394.370</tspan><tspan x="1" dy="1.8">13.500 BW</tspan></text></g>
<g transform="translate(573.4,1284.3)"><circle class="m" r=".8"/><text class="p" x="1" y="-1">164<tspan x="1" dy="1.8">2226597.034</tspan><tspan x="1" dy="1.8">1031382.108</tspan><tspan x="1" dy="1.8">14.337 CNT</tspan></text></g>
<g transform="translate(635,1269)"><circle class="m" r=".8"/><text class="p" x="1" y="-1">2226599.992<tspan x="1" dy="1.8">1031394.214</tspan><tspan x="1" dy="1.8">13.760 BV</tspan></text></g>
<g transform="translate(648.2,1271.7)"><circle class="m" r=".8"/><text class="p" x="1" y="-1">160<tspan x="1" dy="1.8">2226599.389</tspan><tspan x="1" dy="1.8">1031396.649</tspan><tspan x="1" dy="1.8">13.681 BV</tspan></text></g>
<g transform="translate(656.1,1274.9)"><circle class="m" r=".8"/><text class="p" x="1" y="-1">159<tspan x="1" dy="1.8">2226598.742</tspan><tspan x="1" dy="1.8">1031398.307</tspan><tspan x="1" dy="1.8">13.667 BV</tspan></text></g>
<g transform="translate(663,1285.4)"><circle class="m" r=".8"/><text class="p" x="1" y="-1">158<tspan x="1" dy="1.8">2226596.776</tspan><tspan x="1" dy="1.8">1031399.654</tspan><tspan x="1" dy="1.8">13.787 BV</tspan></text></g>
<g transform="translate(665.6,1298.6)"><circle class="m" r=".8"/><text class="p" x="1" y="-1">157<tspan x="1" dy="1.8">2226594.179</tspan><tspan x="1" dy="1.8">1031400.260</tspan><tspan x="1" dy="1.8">13.815 BV</tspan></text></g>
<g transform="translate(583.4,1302.2)"><circle class="m" r=".8"/><text class="p" x="1" y="-1">165<tspan x="1" dy="1.8">2226593.492</tspan><tspan x="1" dy="1.8">1031384.068</tspan><tspan x="1" dy="1.8">14.147 CYL</tspan></text></g>
<g transform="translate(661.2,1313.8)"><circle class="m" r=".8"/><text class="p" x="1" y="-1">168<tspan x="1" dy="1.8">2226591.275</tspan><tspan x="1" dy="1.8">1031399.233</tspan><tspan x="1" dy="1.8">13.995 CYL</tspan></text></g>
<g transform="translate(664,1321)"><circle class="m" r=".8"/><text class="p" x="1" y="-1">156<tspan x="1" dy="1.8">2226589.843</tspan><tspan x="1" dy="1.8">1031399.653</tspan><tspan x="1" dy="1.8">14.010 BV</tspan></text></g>
<g transform="translate(580.3,1327)"><circle class="m" r=".8"/><text class="p" x="1" y="-1">166<tspan x="1" dy="1.8">2226588.441</tspan><tspan x="1" dy="1.8">1031383.219</tspan><tspan x="1" dy="1.8">14.202 CYL</tspan></text></g>
<g transform="translate(657.7,1338.6)"><circle class="m" r=".8"/><text class="p" x="1" y="-1">167<tspan x="1" dy="1.8">2226586.419</tspan><tspan x="1" dy="1.8">1031396.590</tspan><tspan x="1" dy="1.8">13.864 CYL</tspan></text></g>
<g transform="translate(658.7,1351.2)"><circle class="m" r=".8"/><text class="p" x="1" y="-4">2226584.204<tspan x="1" dy="1.8">2226583.880</tspan><tspan x="1" dy="1.8">1031399.446</tspan><tspan x="1" dy="1.8">13.844 BV</tspan></text></g>
<g transform="translate(612.4,1352.3)"><circle class="m" r=".8"/><text class="p" x="1" y="-1">155<tspan x="1" dy="1.8">2226583.744</tspan><tspan x="1" dy="1.8">1031389.773</tspan><tspan x="1" dy="1.8">13.853 BV</tspan></text></g>
<g transform="translate(545,1330)"><circle class="m" r=".8"/><text class="p" x="1" y="-1">153<tspan x="1" dy="1.8">2226585.117</tspan><tspan x="1" dy="1.8">1031378.402</tspan><tspan x="1" dy="1.8">13.912 BV</tspan></text></g>
<g transform="translate(493.3,1309.2)"><circle class="m" r=".8"/><text class="p" x="1" y="-1">151<tspan x="1" dy="1.8">2226590.021</tspan><tspan x="1" dy="1.8">1031366.412</tspan><tspan x="1" dy="1.8">13.769 BV</tspan></text></g>
<g transform="translate(455.2,1310.5)"><circle class="m" r=".8"/><text class="p" x="1" y="-1">127<tspan x="1" dy="1.8">2226591.872</tspan><tspan x="1" dy="1.8">1031358.870</tspan><tspan x="1" dy="1.8">14.612 RE</tspan></text></g>
<g transform="translate(484,1314)"><circle class="m" r=".8"/><text class="p" x="1" y="-1">217<tspan x="1" dy="1.8">2226591.418</tspan><tspan x="1" dy="1.8">1031363.427</tspan><tspan x="1" dy="1.8">14.567 TBM-2</tspan></text></g>
<g transform="translate(468.8,1322.3)"><circle class="m" r=".8"/><text class="p" x="1" y="-1">126<tspan x="1" dy="1.8">2226589.567</tspan><tspan x="1" dy="1.8">1031361.715</tspan><tspan x="1" dy="1.8">14.518 RE</tspan></text></g>
<g transform="translate(513,1261)"><circle class="m" r=".8"/><text class="p" x="1" y="-1">124<tspan x="1" dy="1.8">2226603.464</tspan><tspan x="1" dy="1.8">1031370.209</tspan><tspan x="1" dy="1.8">14.482 RE</tspan></text></g>
<g transform="translate(533,1278)"><circle class="m" r=".8"/><text class="p" x="1" y="-1">125<tspan x="1" dy="1.8">2226601.434</tspan><tspan x="1" dy="1.8">1031374.226</tspan><tspan x="1" dy="1.8">14.316 RE</tspan></text></g>
<g transform="translate(481,1250)"><circle class="m" r=".8"/><text class="p" x="1" y="-1">212<tspan x="1" dy="1.8">2226603.807</tspan><tspan x="1" dy="1.8">1031363.872</tspan><tspan x="1" dy="1.8">14.702</tspan></text></g>
<g transform="translate(492,1258)"><circle class="m" r=".8"/><text class="p" x="1" y="-1">213<tspan x="1" dy="1.8">2226602.732</tspan><tspan x="1" dy="1.8">1031364.156</tspan><tspan x="1" dy="1.8">14.646 TEMPLE</tspan></text></g>
<g transform="translate(474,1265)"><circle class="m" r=".8"/><text class="p" x="1" y="-1">&#160;<tspan x="1" dy="1.8">2226601.323</tspan><tspan x="1" dy="1.8">1031362.661</tspan><tspan x="1" dy="1.8">14.616</tspan></text></g>
<g transform="translate(486,1270)"><circle class="m" r=".8"/><text class="p" x="1" y="-1">214 216<tspan x="1" dy="1.8">2226600.829</tspan><tspan x="1" dy="1.8">1031363.119</tspan><tspan x="1" dy="1.8">14.697 TEMPLE</tspan></text></g>
<g transform="translate(373,1227)"><circle class="m" r=".8"/><text class="p" x="1" y="-1">211<tspan x="1" dy="1.8">2226607.383</tspan><tspan x="1" dy="1.8">1031342.962</tspan><tspan x="1" dy="1.8">13.981 BW</tspan></text></g>
<g transform="translate(372,1266)"><circle class="m" r=".8"/><text class="p" x="1" y="-1">210<tspan x="1" dy="1.8">2226599.605</tspan><tspan x="1" dy="1.8">1031343.040</tspan><tspan x="1" dy="1.8">13.974 BW</tspan></text></g>
<g transform="translate(358.5,1335.4)"><circle class="m" r=".8"/><text class="p" x="1" y="-1">138<tspan x="1" dy="1.8">2226587.050</tspan><tspan x="1" dy="1.8">1031340.138</tspan><tspan x="1" dy="1.8">14.015 BW</tspan></text></g>
<g transform="translate(253.9,1348.9)"><circle class="m" r=".8"/><text class="p" x="1" y="-1">146<tspan x="1" dy="1.8">2226584.408</tspan><tspan x="1" dy="1.8">1031319.656</tspan><tspan x="1" dy="1.8">14.732 RE</tspan></text></g>
<g transform="translate(307.9,1374)"><circle class="m" r=".8"/><text class="p" x="1" y="-1">145<tspan x="1" dy="1.8">2226579.430</tspan><tspan x="1" dy="1.8">1031330.144</tspan><tspan x="1" dy="1.8">14.738 RE</tspan></text></g>
<g transform="translate(241.5,1382.6)"><circle class="m" r=".8"/><text class="p" x="1" y="-1">147<tspan x="1" dy="1.8">2226577.802</tspan><tspan x="1" dy="1.8">1031317.229</tspan><tspan x="1" dy="1.8">14.638 RE</tspan></text></g>
<g transform="translate(352.2,1381.9)"><circle class="m" r=".8"/><text class="p" x="1" y="-1">137 136<tspan x="1" dy="1.8">2226577.985</tspan><tspan x="1" dy="1.8">1031338.758</tspan><tspan x="1" dy="1.8">14.305 BW TF</tspan></text></g>
<g transform="translate(347.6,1393.7)"><circle class="m" r=".8"/><text class="p" x="1" y="-1">144<tspan x="1" dy="1.8">2226575.620</tspan><tspan x="1" dy="1.8">1031337.953</tspan><tspan x="1" dy="1.8">14.797 RE</tspan></text></g>
<g transform="translate(379,1397.7)"><circle class="m" r=".8"/><text class="p" x="1" y="-1">132<tspan x="1" dy="1.8">2226574.844</tspan><tspan x="1" dy="1.8">1031344.075</tspan><tspan x="1" dy="1.8">14.664 RE</tspan></text></g>
<g transform="translate(393.2,1387.2)"><circle class="m" r=".8"/><text class="p" x="1" y="-1">134<tspan x="1" dy="1.8">2226576.784</tspan><tspan x="1" dy="1.8">1031346.881</tspan><tspan x="1" dy="1.8">14.690 RE</tspan></text></g>
<g transform="translate(414.4,1356.4)"><circle class="m" r=".8"/><text class="p" x="1" y="-1">128<tspan x="1" dy="1.8">2226583.869</tspan><tspan x="1" dy="1.8">1031350.994</tspan><tspan x="1" dy="1.8">14.600 RE</tspan></text></g>
<g transform="translate(427,1368.2)"><circle class="m" r=".8"/><text class="p" x="1" y="-1">129<tspan x="1" dy="1.8">2226580.559</tspan><tspan x="1" dy="1.8">1031353.539</tspan><tspan x="1" dy="1.8">14.528 RE</tspan></text></g>
<g transform="translate(409,1395.7)"><circle class="m" r=".8"/><text class="p" x="1" y="-1">135<tspan x="1" dy="1.8">2226575.418</tspan><tspan x="1" dy="1.8">1031350.856</tspan><tspan x="1" dy="1.8">14.742 RE</tspan></text></g>
<g transform="translate(431,1399)"><circle class="m" r=".8"/><text class="p" x="1" y="-1">150<tspan x="1" dy="1.8">2226574.433</tspan><tspan x="1" dy="1.8">1031354.449</tspan><tspan x="1" dy="1.8">14.418 BW</tspan></text></g>
<g transform="translate(409.9,1412.7)"><circle class="m" r=".8"/><text class="p" x="1" y="-1">131<tspan x="1" dy="1.8">2226571.942</tspan><tspan x="1" dy="1.8">1031350.038</tspan><tspan x="1" dy="1.8">14.797 RE</tspan></text></g>
<g transform="translate(421.6,1418.6)"><circle class="m" r=".8"/><text class="p" x="1" y="-1">139<tspan x="1" dy="1.8">2226570.818</tspan><tspan x="1" dy="1.8">1031352.432</tspan><tspan x="1" dy="1.8">14.753 BW</tspan></text></g>
<g transform="translate(416.2,1426.5)"><circle class="m" r=".8"/><text class="p" x="1" y="-1">143<tspan x="1" dy="1.8">2226569.261</tspan><tspan x="1" dy="1.8">1031351.411</tspan><tspan x="1" dy="1.8">14.758 RE</tspan></text></g>
<g transform="translate(293.4,1407.1)"><circle class="m" r=".8"/><text class="p" x="1" y="-1">148<tspan x="1" dy="1.8">2226573.033</tspan><tspan x="1" dy="1.8">1031327.326</tspan><tspan x="1" dy="1.8">14.646 RE</tspan></text></g>
<g transform="translate(344,1432.4)"><circle class="m" r=".8"/><text class="p" x="1" y="-1">149<tspan x="1" dy="1.8">2226568.049</tspan><tspan x="1" dy="1.8">1031337.145</tspan><tspan x="1" dy="1.8">14.654 RE</tspan></text></g>
<g transform="translate(406.2,1462.5)"><circle class="m" r=".8"/><text class="p" x="1" y="-1">142<tspan x="1" dy="1.8">2226562.151</tspan><tspan x="1" dy="1.8">1031349.434</tspan><tspan x="1" dy="1.8">14.718 RE</tspan></text></g>
<g transform="translate(479.7,1461.9)"><circle class="m" r=".8"/><text class="p" x="1" y="-1">140<tspan x="1" dy="1.8">2226562.269</tspan><tspan x="1" dy="1.8">1031363.765</tspan><tspan x="1" dy="1.8">14.870 RE</tspan></text></g>
<g transform="translate(462.5,1491.6)"><circle class="m" r=".8"/><text class="p" x="1" y="-1">141<tspan x="1" dy="1.8">2226556.458</tspan><tspan x="1" dy="1.8">1031360.403</tspan><tspan x="1" dy="1.8">14.710 RE</tspan></text></g>
<g transform="translate(224.7,668.3)"><circle class="m" r=".8"/><text class="p" x="1" y="-1">33<tspan x="1" dy="1.8">2226717.574</tspan><tspan x="1" dy="1.8">1031313.922</tspan><tspan x="1" dy="1.8">14.478 BLD</tspan></text></g>
<g transform="translate(268.3,666.4)"><circle class="m" r=".8"/><text class="p" x="1" y="-1">32<tspan x="1" dy="1.8">2226717.942</tspan><tspan x="1" dy="1.8">1031322.999</tspan><tspan x="1" dy="1.8">14.333 BLD</tspan></text></g>
<g transform="translate(231,826.2)"><circle class="m" r=".8"/><text class="p" x="1" y="-3">2226686.076<tspan x="1" dy="1.8">1031316.501</tspan><tspan x="1" dy="1.8">15.020 BLD</tspan></text></g>
<g transform="translate(216.2,826.5)"><text class="p" x="0" y="1">2226686.627<tspan x="0" dy="1.8">1031315.079</tspan><tspan x="0" dy="1.8">14.521 BLD</tspan></text></g>
<g transform="translate(239.2,844.2)"><circle class="m" r=".8"/><text class="p" x="1" y="-1">207<tspan x="1" dy="3">2226683.166</tspan><tspan x="1" dy="1.8">1031316.696</tspan><tspan x="1" dy="1.8">15.013 BLD</tspan></text></g>
<g transform="translate(216.2,844.8)"><circle class="m" r=".8"/><text class="p" x="1" y="-1">205<tspan x="1" dy="1.8">2226683.038</tspan><tspan x="1" dy="1.8">1031312.218</tspan><tspan x="1" dy="1.8">14.213 BLD</tspan></text></g>
<g transform="translate(279.1,922.7)"><circle class="m" r=".8"/><text class="p" x="1" y="-1">34<tspan x="1" dy="1.8">2226667.819</tspan><tspan x="1" dy="1.8">1031324.526</tspan><tspan x="1" dy="1.8">14.716 BLD</tspan></text></g>
<g transform="translate(219.4,925.2)"><circle class="m" r=".8"/><text class="p" x="1" y="-1">209<tspan x="1" dy="1.8">2226667.346</tspan><tspan x="1" dy="1.8">1031312.858</tspan><tspan x="1" dy="1.8">14.270 BLD</tspan></text></g>
<g transform="translate(247.6,931.2)"><circle class="m" r=".8"/><text class="p" x="1" y="-1">35<tspan x="1" dy="1.8">2226666.127</tspan><tspan x="1" dy="1.8">1031318.303</tspan><tspan x="1" dy="1.8">14.627 TOILET</tspan></text></g>
<g transform="translate(247.6,949.3)"><circle class="m" r=".8"/><text class="p" x="1" y="-1">36<tspan x="1" dy="1.8">2226662.604</tspan><tspan x="1" dy="1.8">1031318.305</tspan><tspan x="1" dy="1.8">14.572 TOILET</tspan></text></g>
<g transform="translate(225.4,952)"><circle class="m" r=".8"/><text class="p" x="1" y="-1">37<tspan x="1" dy="1.8">2226662.024</tspan><tspan x="1" dy="1.8">1031313.988</tspan><tspan x="1" dy="1.8">14.394 TOILET</tspan></text></g>
<g transform="translate(209,950)"><circle class="m" r=".8"/><text class="p" x="1" y="-3">204<tspan x="1" dy="1.8">2226662.940</tspan><tspan x="1" dy="1.8">1031310.889</tspan><tspan x="1" dy="1.8">13.638 BW</tspan></text></g>
<g transform="translate(208,975)"><circle class="m" r=".8"/><text class="p" x="1" y="-1">203<tspan x="1" dy="1.8">2226657.812</tspan><tspan x="1" dy="1.8">1031310.224</tspan><tspan x="1" dy="1.8">13.702 BW</tspan></text></g>
<g transform="translate(263,975)"><circle class="m" r=".8"/><text class="p" x="1" y="-1">48<tspan x="1" dy="1.8">2226656.921</tspan><tspan x="1" dy="1.8">1031322.004</tspan><tspan x="1" dy="1.8">13.811 BW</tspan></text></g>
<g transform="translate(350,976)"><circle class="m" r=".8"/><text class="p" x="1" y="-1">47<tspan x="1" dy="1.8">2226655.630</tspan><tspan x="1" dy="1.8">1031339.660</tspan><tspan x="1" dy="1.8">13.904 BW</tspan></text></g>
<g transform="translate(355.3,870.4)"><circle class="m" r=".8"/><text class="p" x="1" y="-1">42<tspan x="1" dy="1.8">2226677.910</tspan><tspan x="1" dy="1.8">1031339.421</tspan><tspan x="1" dy="1.8">14.807 RE</tspan></text></g>
<g transform="translate(371.8,872)"><circle class="m" r=".8"/><text class="p" x="1" y="-1">41<tspan x="1" dy="1.8">2226677.500</tspan><tspan x="1" dy="1.8">1031342.625</tspan><tspan x="1" dy="1.8">14.757 RE</tspan></text></g>
<g transform="translate(371.4,926)"><circle class="m" r=".8"/><text class="p" x="1" y="-1">43<tspan x="1" dy="1.8">2226667.033</tspan><tspan x="1" dy="1.8">1031342.602</tspan><tspan x="1" dy="1.8">14.764 EP</tspan></text></g>
<g transform="translate(372,1006)"><circle class="m" r=".8"/><text class="p" x="1" y="-1">45<tspan x="1" dy="1.8">2226650.012</tspan><tspan x="1" dy="1.8">1031342.110</tspan><tspan x="1" dy="1.8">14.702 RE</tspan></text></g>
<g transform="translate(355,1010)"><circle class="m" r=".8"/><text class="p" x="1" y="-1">46<tspan x="1" dy="1.8">2226649.533</tspan><tspan x="1" dy="1.8">1031339.004</tspan><tspan x="1" dy="1.8">14.690 RE</tspan></text></g>
<g transform="translate(361,1066)"><circle class="m" r=".8"/><text class="p" x="1" y="-1">51<tspan x="1" dy="1.8">2226637.529</tspan><tspan x="1" dy="1.8">1031344.018</tspan><tspan x="1" dy="1.8">14.796 RE</tspan></text></g>
<g transform="translate(376,1080)"><circle class="m" r=".8"/><text class="p" x="1" y="-1">52<tspan x="1" dy="1.8">2226636.088</tspan><tspan x="1" dy="1.8">1031344.117</tspan><tspan x="1" dy="1.8">14.627 RE</tspan></text></g>
<g transform="translate(359,1087)"><circle class="m" r=".8"/><text class="p" x="1" y="-1">49 50<tspan x="1" dy="1.8">2226636.306</tspan><tspan x="1" dy="1.8">1031340.924</tspan><tspan x="1" dy="1.8">14.791 BW</tspan></text></g>
</g>
</svg>
</body></html>
